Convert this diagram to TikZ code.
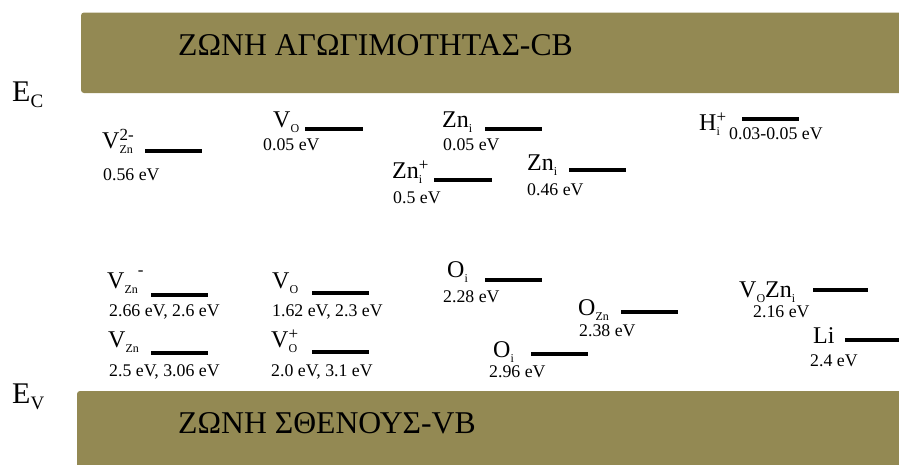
\documentclass[tikz,border=0pt]{standalone}
\usepackage{fontspec}
\setmainfont{Liberation Serif}
\definecolor{bandcol}{HTML}{938953}
\newcommand\dfc[3]{#1\makebox[0pt][l]{\raisebox{-5pt}{\fontsize{12}{12}\selectfont #2}}\raisebox{8pt}{\fontsize{17}{17}\selectfont #3}}
\newcommand\sbs[1]{\raisebox{-5pt}{\fontsize{12}{12}\selectfont #1}}
\tikzset{
  band/.style={fill=bandcol, rounded corners=3pt},
  bandtext/.style={anchor=base west, inner sep=0pt, font=\fontsize{31.7}{32}\selectfont},
  species/.style={anchor=base west, inner sep=0pt, font=\fontsize{24}{24}\selectfont},
  energy/.style={anchor=base west, inner sep=0pt, font=\fontsize{17.8}{17.8}\selectfont},
  level/.style={line width=4pt},
  edge/.style={anchor=base west, inner sep=0pt, font=\fontsize{30}{30}\selectfont}
}
\begin{document}
\begin{tikzpicture}[x=1pt,y=-1pt]
\path[use as bounding box] (0,0) rectangle (899,464);
% bands
\fill[band] (81,12.5) rectangle (910,93);
\fill[band] (77,391) rectangle (910,475);
\node[bandtext] (cb) at (178,55) {ΖΩΝΗ ΑΓΩΓΙΜΟΤΗΤΑΣ-CB};
\node[bandtext] (vb) at (178,433) {ΖΩΝΗ ΣΘΕΝΟΥΣ-VB};
\node[edge] (ec) at (12,101) {E\raisebox{-6pt}{\fontsize{19}{19}\selectfont C}};
\node[edge] (ev) at (12,403) {E\raisebox{-6pt}{\fontsize{19}{19}\selectfont V}};
% row 1
\node[species] (s1) at (102,148) {\dfc{V}{Zn}{2-}};
\draw[level] (145,151) -- (202,151);
\node[energy] (e1) at (103,180) {0.56 eV};
\node[species] (s2) at (273,127) {V\sbs{O}};
\draw[level] (305,128.5) -- (363,128.5);
\node[energy] (e2) at (263,150) {0.05 eV};
\node[species] (s3) at (442,127) {Zn\sbs{i}};
\draw[level] (485,128.5) -- (542,128.5);
\node[energy] (e3) at (443,150) {0.05 eV};
\node[species] (s4) at (392,178) {\dfc{Zn}{i}{+}};
\draw[level] (434,180) -- (492,180);
\node[energy] (e4) at (393,203) {0.5 eV};
\node[species] (s5) at (527,170) {Zn\sbs{i}};
\draw[level] (569,170) -- (626,170);
\node[energy] (e5) at (527,195) {0.46 eV};
\node[species] (s6) at (699,130) {\dfc{H}{i}{+}};
\draw[level] (742,119) -- (799,119);
\node[energy] (e6) at (729,139) {0.03-0.05 eV};
% row 2
\node[species] (s7) at (107,288) {V\sbs{Zn}\raisebox{13pt}{\fontsize{17}{17}\selectfont -}};
\draw[level] (151,294.5) -- (208,294.5);
\node[energy] (e7) at (109,316) {2.66 eV, 2.6 eV};
\node[species] (s8) at (272,288) {V\sbs{O}};
\draw[level] (312,293) -- (369,293);
\node[energy] (e8) at (272,316) {1.62 eV, 2.3 eV};
\node[species] (s9) at (108,347) {V\sbs{Zn}};
\draw[level] (151,353) -- (208,353);
\node[energy] (e9) at (109,376) {2.5 eV, 3.06 eV};
\node[species] (s10) at (271,347) {\dfc{V}{O}{+}};
\draw[level] (312,352) -- (369,352);
\node[energy] (e10) at (271,376) {2.0 eV, 3.1 eV};
\node[species] (s11) at (447,277) {O\sbs{i}};
\draw[level] (485,280) -- (542,280);
\node[energy] (e11) at (443,302) {2.28 eV};
\node[species] (s12) at (578,315) {O\sbs{Zn}};
\draw[level] (621,312) -- (678,312);
\node[energy] (e12) at (579,336) {2.38 eV};
\node[species] (s13) at (493,357) {O\sbs{i}};
\draw[level] (531,354) -- (588,354);
\node[energy] (e13) at (489,377) {2.96 eV};
\node[species] (s14) at (739,297) {V\sbs{O}Zn\sbs{i}};
\draw[level] (813,290) -- (868,290);
\node[energy] (e14) at (753,317) {2.16 eV};
\node[species] (s15) at (813,343) {Li};
\draw[level] (845,340) -- (900,340);
\node[energy] (e15) at (810,366) {2.4 eV};
\end{tikzpicture}
\end{document}
